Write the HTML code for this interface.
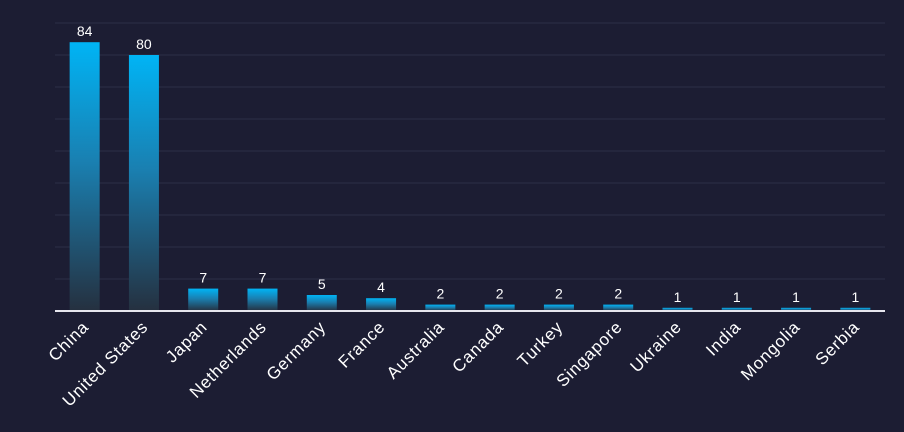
<!DOCTYPE html>
<html><head><meta charset="utf-8"><style>
html,body{margin:0;padding:0;background:#1c1d33;}
svg{display:block;font-family:"Liberation Sans",sans-serif;}
</style></head><body>
<svg id="chart" width="904" height="432" viewBox="0 0 904 432">
<defs><linearGradient id="g" x1="0" y1="0" x2="0" y2="1"><stop offset="0" stop-color="#00b4f5"/><stop offset="0.45" stop-color="#1a7fb0"/><stop offset="1" stop-color="#25303f"/></linearGradient></defs>
<rect x="0" y="0" width="904" height="432" fill="#1c1d33"/>
<g id="grid"></g><g id="bars"></g><g id="labels"></g>
<line x1="55" y1="311" x2="885" y2="311" stroke="#e6e6ee" stroke-width="2"/>
</svg>
<script>
const categories=["China","United States","Japan","Netherlands","Germany","France","Australia","Canada","Turkey","Singapore","Ukraine","India","Mongolia","Serbia"];
const values=[84,80,7,7,5,4,2,2,2,2,1,1,1,1];
const gridTicks=[10,20,30,40,50,60,70,80,90];
const NS="http://www.w3.org/2000/svg";
const x0=55,x1=885,base=311,pxPerUnit=3.2;
const step=(x1-x0)/categories.length;
const xc=i=>x0+step*(i+0.5);
const y=v=>base-v*pxPerUnit;
const grid=document.getElementById('grid'),bars=document.getElementById('bars'),labels=document.getElementById('labels');
gridTicks.forEach(t=>{const l=document.createElementNS(NS,'line');


l.setAttribute('x1',x0);l.setAttribute('x2',x1);l.setAttribute('y1',y(t));l.setAttribute('y2',y(t));
l.setAttribute('stroke','#2c2e47');l.setAttribute('stroke-width','1');grid.appendChild(l);});
categories.forEach((c,i)=>{const v=values[i];const w=30;
const r=document.createElementNS(NS,'rect');


r.setAttribute('x',xc(i)-w/2);r.setAttribute('y',y(v));r.setAttribute('width',w);r.setAttribute('height',base-y(v));
r.setAttribute('fill','url(#g)');bars.appendChild(r);
const t=document.createElementNS(NS,'text');


t.setAttribute('x',xc(i));t.setAttribute('y',y(v)-6);t.setAttribute('text-anchor','middle');
t.setAttribute('fill','#ffffff');t.setAttribute('font-size','14');t.textContent=v;labels.appendChild(t);
const lx=xc(i)+5,ly=328;
const a=document.createElementNS(NS,'text');


a.setAttribute('x',lx);a.setAttribute('y',ly);a.setAttribute('text-anchor','end');
a.setAttribute('transform','rotate(-45 '+lx+' '+ly+')');
a.setAttribute('letter-spacing','0.8');
a.setAttribute('fill','#ffffff');a.setAttribute('font-size','17');a.textContent=c;labels.appendChild(a);});
</script>
</body></html>
